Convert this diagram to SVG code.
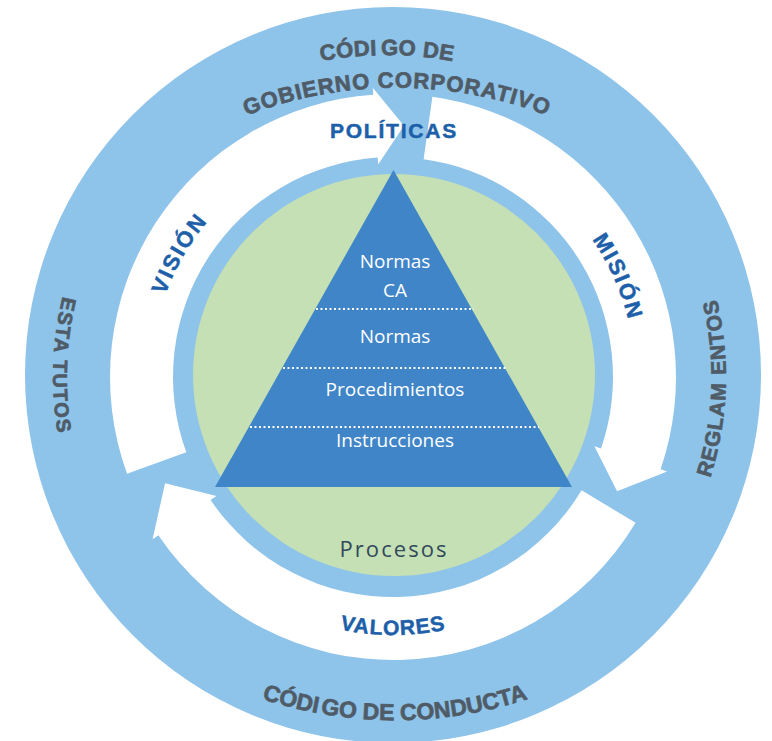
<svg xmlns="http://www.w3.org/2000/svg" width="772" height="741" viewBox="0 0 772 741">
<style>
.arrow{fill:#ffffff}
.outer{font-family:"Liberation Sans",Arial,sans-serif;font-weight:bold;fill:#4f5c67;stroke:#4f5c67;stroke-width:0.7}
.inner{font-family:"Liberation Sans",Arial,sans-serif;font-weight:bold;fill:#1d5fa9;stroke:#1d5fa9;stroke-width:0.5}
.pyr{font-family:"Open Sans","Liberation Sans",sans-serif;fill:#ffffff;font-size:19px;text-anchor:middle}
.dot{stroke:#ffffff;stroke-width:2;stroke-dasharray:2 2.5;fill:none}
</style>
<defs>
<path id="p-cod1" d="M208 103 A358 358 0 0 1 566 103"/>
<path id="p-gob" d="M127 186 A420 420 0 0 1 667 186"/>
<path id="p-cond" d="M122 621 A425 425 0 0 0 668 621"/>
<path id="p-est" d="M132.5 158.5 A340 340 0 0 0 118 576.8"/>
<path id="p-reg" d="M648 591 A333 333 0 0 0 662.4 181.3"/>
<path id="p-vis" d="M154.7 419 A242 242 0 0 1 310.2 149.6"/>
<path id="p-mis" d="M499.1 159.5 A242 242 0 0 1 625.6 443.7"/>
<path id="p-val" d="M227.2 574.6 A258 258 0 0 0 558.8 574.6"/>
</defs>
<rect width="772" height="741" fill="#ffffff"/>
<g id="outer-ring">
<circle cx="393" cy="375" r="368" fill="#8ec3ea"/>
<text class="outer" font-size="22" letter-spacing="0.3"><textPath href="#p-cod1" startOffset="50%" text-anchor="middle">CÓDI<tspan dx="4">GO DE</tspan></textPath></text>
<text class="outer" font-size="22" letter-spacing="1"><textPath href="#p-gob" startOffset="50%" text-anchor="middle">GOBIERNO CORPORATIVO</textPath></text>
<text class="outer" font-size="20" letter-spacing="1.5"><textPath href="#p-est" startOffset="50%" text-anchor="middle">ESTA<tspan dx="8">TUTOS</tspan></textPath></text>
<text class="outer" font-size="21" letter-spacing="1"><textPath href="#p-reg" startOffset="50%" text-anchor="middle">REGLAM<tspan dx="8">ENTOS</tspan></textPath></text>
<text class="outer" font-size="23"><textPath href="#p-cond" startOffset="50%" text-anchor="middle">CÓDI<tspan dx="3">GO DE</tspan><tspan dx="6">CONDUCTA</tspan></textPath></text>
</g>
<g id="arrow-vision">
<path class="arrow" d="M127.07 473.79 A283 283 0 0 1 373.26 94.69 L372.77 87.71 L403.97 125.74 L378.14 164.52 L377.65 157.54 A220 220 0 0 0 186.27 452.24 Z"/>
<text class="inner" font-size="22" letter-spacing="2"><textPath href="#p-vis" startOffset="50%" text-anchor="middle">VISIÓN</textPath></text>
</g>
<g id="arrow-mision">
<path class="arrow" d="M432.39 96.75 A283 283 0 0 1 660.58 469.14 L667.2 471.41 L617.09 491.18 L594.4 446.35 L601.01 448.62 A220 220 0 0 0 423.62 159.14 Z"/>
<text class="inner" font-size="22" letter-spacing="2"><textPath href="#p-mis" startOffset="50%" text-anchor="middle">MISIÓN</textPath></text>
</g>
<g id="arrow-valores">
<path class="arrow" d="M635.58 522.76 A283 283 0 0 1 158.38 535.25 L152.58 539.17 L165.06 483.29 L216.42 496.11 L210.61 500.02 A220 220 0 0 0 581.58 490.31 Z"/>
<text class="inner" font-size="21" letter-spacing="1"><textPath href="#p-val" startOffset="50%" text-anchor="middle">VALORES</textPath></text>
</g>
<g id="politicas">
<text class="inner" x="394" y="138" font-size="21" letter-spacing="1.8" text-anchor="middle">POLÍTICAS</text>
</g>
<g id="procesos">
<circle cx="394" cy="375" r="201" fill="#c5e0b4"/>
<text x="393" y="557" font-family="'Open Sans','Liberation Sans',sans-serif" font-size="22" fill="#31495a" text-anchor="middle" textLength="107" lengthAdjust="spacing">Procesos</text>
</g>
<g id="piramide">
<path d="M393.5 170 L572 487 L215 487 Z" fill="#3f85c8"/>
<line class="dot" x1="316" y1="309" x2="474" y2="309"/>
<line class="dot" x1="283" y1="368" x2="506" y2="368"/>
<line class="dot" x1="250" y1="427" x2="539" y2="427"/>
<text class="pyr" x="395" y="268">Normas</text>
<text class="pyr" x="395" y="297">CA</text>
<text class="pyr" x="395" y="343">Normas</text>
<text class="pyr" x="395" y="396">Procedimientos</text>
<text class="pyr" x="395" y="447">Instrucciones</text>
</g>
</svg>
